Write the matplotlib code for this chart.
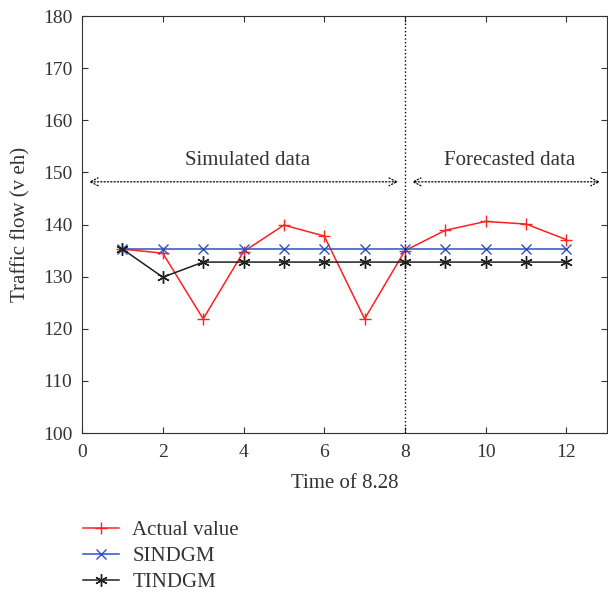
import matplotlib
matplotlib.use("Agg")
import matplotlib.pyplot as plt

plt.rcParams['font.family'] = ['Liberation Serif', 'DejaVu Serif']

time = [1, 2, 3, 4, 5, 6, 7, 8, 9, 10, 11, 12]
actual = [135.3, 134.5, 121.9, 134.8, 139.9, 137.8, 121.9, 135.0, 138.9, 140.6, 140.1, 137.1]
sindgm = [135.3] * 12
tindgm = [135.3, 129.9, 132.8, 132.8, 132.8, 132.8, 132.8, 132.8, 132.8, 132.8, 132.8, 132.8]

fig = plt.figure(figsize=(6.08, 5.97), dpi=100)
ax = fig.add_axes([0.135, 0.2747, 0.863, 0.6983])

ax.plot(time, actual, color='#ff2020', marker='+', markersize=9, lw=1.1, label='Actual value')
ax.plot(time, sindgm, color='#3050c0', marker='x', markersize=7, lw=1.1, label='SINDGM')
ax.plot(time, tindgm, color='#202020', marker=(6, 2, 0), markersize=9, lw=1.1, label='TINDGM')

ax.axvline(8, color='black', ls=':', lw=1)
arrow = dict(arrowstyle='<->', ls=':', lw=0.9, color='black', mutation_scale=14)
ax.annotate('', xy=(0.1, 148.2), xytext=(7.9, 148.2), arrowprops=arrow)
ax.annotate('', xy=(8.1, 148.2), xytext=(12.9, 148.2), arrowprops=arrow)
ax.text(4.1, 152.2, 'Simulated data', ha='center', va='center', fontsize=15, color='#333333')
ax.text(10.6, 152.2, 'Forecasted data', ha='center', va='center', fontsize=15, color='#333333')

ax.set_xlim(0, 13)
ax.set_ylim(100, 180)
ax.set_xticks([0, 2, 4, 6, 8, 10, 12])
ax.set_yticks(range(100, 181, 10))
ax.tick_params(direction='in', right=True, top=True, labelsize=14, colors='#333333', length=4)
ax.tick_params(axis='x', pad=8)
ax.tick_params(axis='y', pad=7)
ax.set_xlabel('Time of 8.28', fontsize=15, color='#333333', labelpad=9)
ax.set_ylabel('Traffic flow (v eh)', fontsize=15, color='#333333', labelpad=9)
for s in ax.spines.values():
    s.set_color('#333333')

handles, labels = ax.get_legend_handles_labels()
fig.legend(handles, labels, loc='upper left', bbox_to_anchor=(0.12, 0.145), frameon=False,
           fontsize=15, handlelength=1.7, handletextpad=0.65, labelspacing=0.3,
           borderpad=0, labelcolor='#333333')

fig.savefig('out.png', dpi=100)
